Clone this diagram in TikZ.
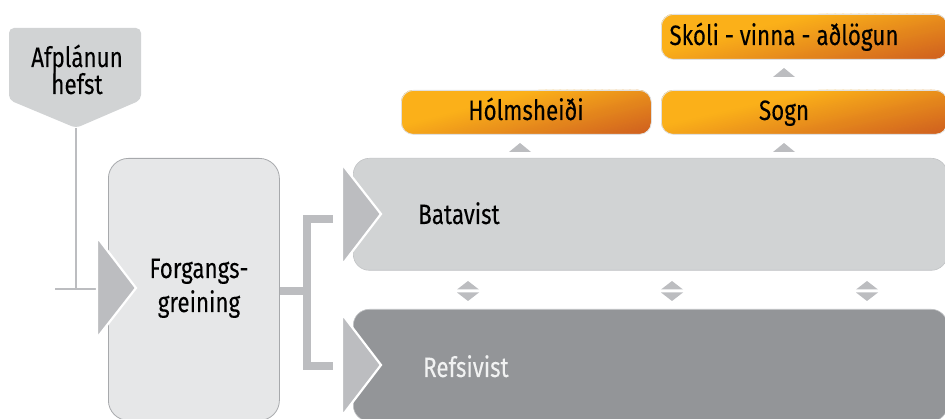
\documentclass[tikz,border=0pt]{standalone}
\usepackage{fontspec}
\setmainfont{Fira Sans}[FakeStretch=0.8,FakeBold=0.08]
\definecolor{lgray}{HTML}{D1D3D4}
\definecolor{vlgray}{HTML}{E6E7E8}
\definecolor{dgray}{HTML}{939598}
\definecolor{mgray}{HTML}{BCBDC0}
\definecolor{bordgray}{HTML}{A7A9AC}
\definecolor{orA}{HTML}{FBB019}
\definecolor{orB}{HTML}{CF5F1F}
\definecolor{txtwhite}{HTML}{F1F2F2}
\tikzset{
  conn/.style={draw=mgray, line width=2pt},
  bracket/.style={draw=mgray, line width=8pt, line join=miter},
  chev/.style={fill=mgray, draw=white, line width=2.2pt, line join=miter},
  smalltri/.style={fill=mgray},
  lbl/.style={font=\fontsize{28}{28}\selectfont, inner sep=0pt, anchor=base},
  orbox/.style={rounded corners=12pt, draw=black!12, line width=0.8pt, inner sep=0pt, anchor=north west},
}
% gradient fill of an orange box: x0, y0, width, height
\newcommand\orfill[4]{%
  \begin{scope}
  \clip[rounded corners=12pt] (#1,#2) rectangle ++(#3,#4);
  \fill[orA] (#1,#2) rectangle ++(#3,#4);
  \foreach \i in {0,...,39}{%
    \pgfmathsetmacro\ca{0.33+\i*0.67/40}%
    \pgfmathsetmacro\cb{\ca+0.67/40+0.004}%
    \pgfmathsetmacro\pp{(\i+0.5)/40*100}%
    \fill[orB!\pp!orA] ({#1+\ca/0.6*#3},#2) -- ({#1+\cb/0.6*#3},#2)
      -- ({#1+(\cb-0.4)/0.6*#3},{#2+#4}) -- ({#1+(\ca-0.4)/0.6*#3},{#2+#4}) -- cycle;
  }
  \end{scope}}
\begin{document}
\begin{tikzpicture}[x=1pt,y=-1pt]
\useasboundingbox (0,0) rectangle (945,419);
\clip (0,0) rectangle (945,419);

% Afplanun hefst
\path[fill=lgray, rounded corners=5pt] (9,28) -- (141,28) -- (141,100) -- (76,128) -- (9,100) -- cycle;
\node[lbl] (af1) at (77,67) {Afplánun};
\node[lbl] (af2) at (77,94) {hefst};
\coordinate (afp) at (76,128);
\coordinate (afj) at (76,289);
\coordinate (afl) at (55,289);
\coordinate (t1w) at (98,289);
\draw[conn] (afp) -- (afj);
\draw[conn] (afl) -- (t1w);

% Forgangsgreining
\node[draw=bordgray, line width=0.8pt, fill=vlgray, rounded corners=20pt,
  minimum width=171pt, minimum height=262pt, anchor=north west, inner sep=0pt] (fg) at (108,158) {};
\node[lbl] (fg1) at (199,278) {Forgangs-};
\node[lbl] (fg2) at (199,312) {greining};
\path[chev] (97,237) -- (136,288) -- (97,338) -- cycle;

% Batavist
\node[draw=bordgray!70, line width=0.6pt, fill=lgray, rounded corners=16pt,
  minimum width=594pt, minimum height=112pt, anchor=north west, inner sep=0pt] (bv) at (353,158) {};
\node[lbl, anchor=base west] (bvt) at (418,224) {Batavist};
\path[chev] (342,164) -- (381,214) -- (342,265) -- cycle;

% Refsivist
\node[draw=bordgray!70, line width=0.6pt, fill=dgray, rounded corners=16pt,
  minimum width=594pt, minimum height=112pt, anchor=north west, inner sep=0pt] (rv) at (353,309) {};
\node[lbl, anchor=base west, text=txtwhite] (rvt) at (423,377) {Refsivist};
\path[chev] (342,314) -- (381,365) -- (342,416) -- cycle;

% bracket
\coordinate (brt) at (333,219);
\coordinate (brb) at (333,366);
\coordinate (brm) at (307,291);
\draw[bracket] (brt) -- (307,219) -- (307,366) -- (brb);
\draw[bracket] (fg.east |- brm) -- (brm);

% double arrows
\foreach \x in {468,672,867}{
  \fill[mgray] (\x-11,289.5) -- (\x,281) -- (\x+11,289.5) -- cycle;
  \fill[mgray] (\x-11,292.5) -- (\x,301) -- (\x+11,292.5) -- cycle;
}

% orange boxes
\orfill{401}{90}{250}{44}
\node[orbox, minimum width=250pt, minimum height=44pt] (ho) at (401,90) {};
\node[lbl] (hot) at (526,120) {Hólmsheiði};

\orfill{661}{90}{286}{44}
\node[orbox, minimum width=286pt, minimum height=44pt] (so) at (661,90) {};
\node[lbl] (sot) at (784,120) {Sogn};

\orfill{661}{14}{286}{45}
\node[orbox, minimum width=286pt, minimum height=45pt] (sk) at (661,14) {};
\node[lbl] (skt) at (784,45) {Skóli - vinna - aðlögun};

% small up triangles
\fill[smalltri] (509,152) -- (520,143) -- (531,152) -- cycle;
\fill[smalltri] (773,152) -- (784,143) -- (795,152) -- cycle;
\fill[smalltri] (773,77) -- (784,68) -- (795,77) -- cycle;
\end{tikzpicture}
\end{document}
